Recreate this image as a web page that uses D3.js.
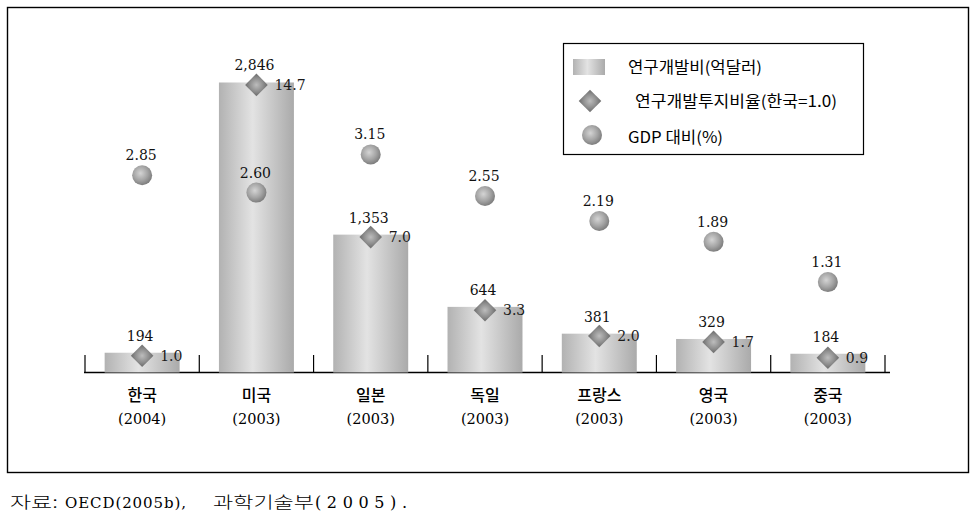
<!DOCTYPE html>
<html>
<head>
<meta charset="utf-8">
<script src="https://cdn.jsdelivr.net/npm/d3@7"></script>
<style>
  html, body { margin: 0; padding: 0; background: #fff; }
  svg { display: block; }
</style>
</head>
<body>
<svg id="chart" width="978" height="514"></svg>
<script>
// ---- data ----
const countries = ["한국", "미국", "일본", "독일", "프랑스", "영국", "중국"];
const years = ["(2004)", "(2003)", "(2003)", "(2003)", "(2003)", "(2003)", "(2003)"];
const rdSpend = [194, 2846, 1353, 644, 381, 329, 184];          // 연구개발비(억달러)
const rdSpendLabels = ["194", "2,846", "1,353", "644", "381", "329", "184"];
const rdRatio = [1.0, 14.7, 7.0, 3.3, 2.0, 1.7, 0.9];           // 연구개발투자비율(한국=1.0)
const gdpShare = [2.85, 2.60, 3.15, 2.55, 2.19, 1.89, 1.31];     // GDP 대비(%)
const legendLabels = ["연구개발비(억달러)", "연구개발투지비율(한국=1.0)", "GDP 대비(%)"];
const sourceParts = ["자료:", "OECD(2005b),", "과학기술부", "(2005)."];

// ---- setup ----
const svg = d3.select("#chart");
const serif = "'DejaVu Serif', 'Noto Sans CJK KR', serif";
const kfont = "'Noto Sans CJK KR', sans-serif";

const defs = svg.append("defs");
const barGrad = defs.append("linearGradient").attr("id", "barGrad")
  .attr("x1", "0%").attr("x2", "100%").attr("y1", "0%").attr("y2", "0%");
[[0, "#b2b2b2"], [0.45, "#e3e3e3"], [1, "#aaaaaa"]].forEach(([o, c]) =>
  barGrad.append("stop").attr("offset", o).attr("stop-color", c));

const ballGrad = defs.append("radialGradient").attr("id", "ballGrad")
  .attr("cx", "42%").attr("cy", "40%").attr("r", "60%");
[[0, "#d4d4d4"], [0.6, "#a4a4a4"], [1, "#7e7e7e"]].forEach(([o, c]) =>
  ballGrad.append("stop").attr("offset", o).attr("stop-color", c));

const diaGrad = defs.append("radialGradient").attr("id", "diaGrad")
  .attr("cx", "50%").attr("cy", "50%").attr("r", "60%");
[[0, "#bdbdbd"], [0.7, "#8e8e8e"], [1, "#777777"]].forEach(([o, c]) =>
  diaGrad.append("stop").attr("offset", o).attr("stop-color", c));

// outer frame
svg.append("rect").attr("x", 7.5).attr("y", 7.5).attr("width", 961).attr("height", 465)
  .attr("fill", "none").attr("stroke", "#000").attr("stroke-width", 1.4);

// ---- scales ----
const x = d3.scaleBand().domain(countries).range([85, 885]).paddingInner(0.344).paddingOuter(0.172);
const xb = d3.scaleBand().domain(countries).range([85, 885]); // category slots (tick boundaries)
const baseY = 372.5;
const yBar = d3.scaleLinear().domain([0, 3000]).range([baseY, baseY - 305.7]);
const yRatio = d3.scaleLinear().domain([0, 3000 / 194]).range([baseY, baseY - 305.7]);
const yGdp = d3.scaleLinear().domain([0, 4]).range([373, 95.4]);
const cx = d => x(d) + x.bandwidth() / 2;

// ---- axis ----
const axisG = svg.append("g");
axisG.append("line").attr("x1", 84).attr("x2", 890).attr("y1", baseY).attr("y2", baseY)
  .attr("stroke", "#000").attr("stroke-width", 1.4);
const tickPos = countries.map(c => xb(c)).concat([xb.range()[1]]);
axisG.selectAll("line.tick").data(tickPos).join("line").attr("class", "tick")
  .attr("x1", d => d).attr("x2", d => d).attr("y1", 355).attr("y2", baseY)
  .attr("stroke", "#000").attr("stroke-width", 1.2);

// ---- bars ----
svg.append("g").selectAll("rect").data(countries).join("rect")
  .attr("x", d => x(d)).attr("width", x.bandwidth())
  .attr("y", (d, i) => yBar(rdSpend[i]))
  .attr("height", (d, i) => baseY - yBar(rdSpend[i]))
  .attr("fill", "url(#barGrad)");

// bar value labels
svg.append("g").selectAll("text").data(countries).join("text")
  .attr("x", d => cx(d) - 2).attr("y", (d, i) => yBar(rdSpend[i]) - 12)
  .attr("text-anchor", "middle").attr("font-family", serif).attr("font-size", 14)
  .attr("fill", "#111").text((d, i) => rdSpendLabels[i]);

// ---- diamonds ----
const dSize = 16;
svg.append("g").selectAll("rect").data(countries).join("rect")
  .attr("x", -dSize / 2).attr("y", -dSize / 2).attr("width", dSize).attr("height", dSize)
  .attr("transform", (d, i) => `translate(${cx(d)},${yRatio(rdRatio[i]) + 3}) rotate(45)`)
  .attr("fill", "url(#diaGrad)");
svg.append("g").selectAll("text").data(countries).join("text")
  .attr("x", d => cx(d) + 18).attr("y", (d, i) => yRatio(rdRatio[i]) + 3)
  .attr("dy", "0.36em").attr("font-family", serif).attr("font-size", 14)
  .attr("fill", "#1a1a1a").text((d, i) => rdRatio[i].toFixed(1));

// ---- GDP balls ----
svg.append("g").selectAll("circle").data(countries).join("circle")
  .attr("cx", d => cx(d)).attr("cy", (d, i) => yGdp(gdpShare[i])).attr("r", 10)
  .attr("fill", "url(#ballGrad)");
svg.append("g").selectAll("text").data(countries).join("text")
  .attr("x", d => cx(d) - 1).attr("y", (d, i) => yGdp(gdpShare[i]) - 15)
  .attr("text-anchor", "middle").attr("font-family", serif).attr("font-size", 14)
  .attr("fill", "#111").text((d, i) => gdpShare[i].toFixed(2));

// ---- category labels ----
const catG = svg.append("g");
catG.selectAll("text.name").data(countries).join("text").attr("class", "name")
  .attr("x", d => cx(d)).attr("y", 401).attr("text-anchor", "middle")
  .attr("font-family", kfont).attr("font-size", 16).attr("font-weight", 500)
  .attr("fill", "#000").text(d => d);
catG.selectAll("text.year").data(countries).join("text").attr("class", "year")
  .attr("x", d => cx(d)).attr("y", 424).attr("text-anchor", "middle")
  .attr("font-family", serif).attr("font-size", 14.5)
  .attr("fill", "#000").text((d, i) => years[i]);

// ---- legend ----
const lg = svg.append("g");
lg.append("rect").attr("x", 563.5).attr("y", 43.5).attr("width", 300).attr("height", 111)
  .attr("fill", "#fff").attr("stroke", "#000").attr("stroke-width", 1.2);
lg.append("rect").attr("x", 573).attr("y", 59).attr("width", 32).attr("height", 16)
  .attr("fill", "url(#barGrad)");
lg.append("rect").attr("x", -8).attr("y", -8).attr("width", 16).attr("height", 16)
  .attr("transform", "translate(590,101) rotate(45)").attr("fill", "url(#diaGrad)");
lg.append("circle").attr("cx", 592).attr("cy", 135).attr("r", 10).attr("fill", "url(#ballGrad)");
const legY = [67, 101, 137];
const legX = [628, 635, 628];
const legW = [134, 202, 95];
lg.selectAll("text").data(legendLabels).join("text")
  .attr("x", (d, i) => legX[i]).attr("y", (d, i) => legY[i]).attr("dy", "0.36em")
  .attr("font-family", kfont).attr("font-size", 15.5).attr("fill", "#000")
  .attr("textLength", (d, i) => legW[i]).attr("lengthAdjust", "spacingAndGlyphs")
  .text(d => d);

// ---- source ----
const src = svg.append("text").attr("y", 508).attr("fill", "#000");
const srcX = [10, 65, 213, 315];
const srcFont = [kfont, serif, kfont, serif];
const srcSize = [16, 15, 16, 16];
const srcW = [48, 121, 101, 92];
const srcAdj = ["spacingAndGlyphs", "spacing", "spacingAndGlyphs", "spacing"];
src.selectAll("tspan").data(sourceParts).join("tspan")
  .attr("x", (d, i) => srcX[i]).attr("font-family", (d, i) => srcFont[i])
  .attr("font-size", (d, i) => srcSize[i]).attr("font-weight", (d, i) => srcFont[i] === kfont ? 300 : 400)
  .attr("textLength", (d, i) => srcW[i]).attr("lengthAdjust", (d, i) => srcAdj[i])
  .text(d => d);
</script>
</body>
</html>
